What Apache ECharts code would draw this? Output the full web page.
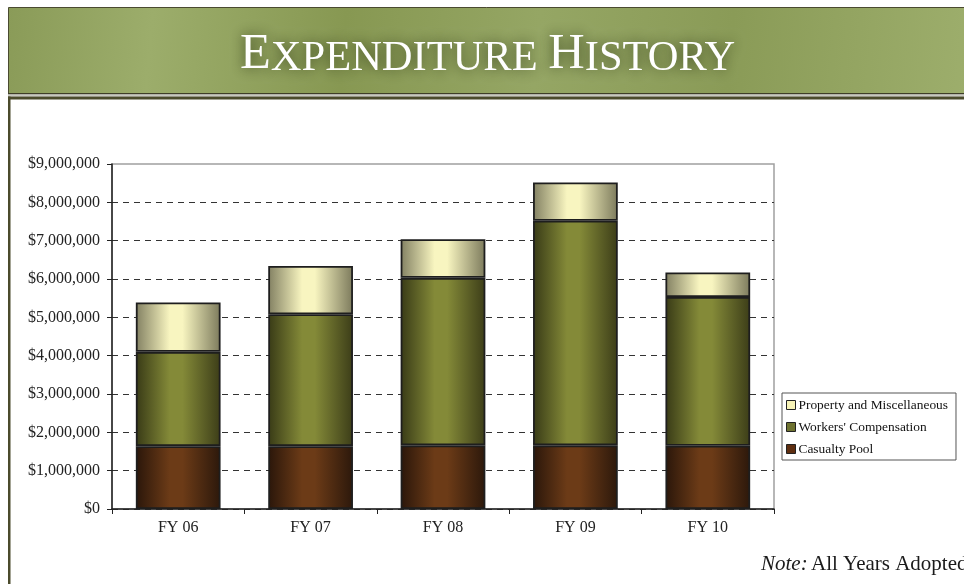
<!DOCTYPE html>
<html>
<head>
<meta charset="utf-8">
<script src="https://cdn.jsdelivr.net/npm/echarts@6/dist/echarts.min.js"></script>
<style>
  html, body { margin: 0; padding: 0; background: #fff; }
  #chart { width: 964px; height: 584px; }
</style>
</head>
<body>
<div id="chart"></div>
<script>
// values (dollars)
const years = ['FY 06', 'FY 07', 'FY 08', 'FY 09', 'FY 10'];
const casualtyPool = [1640000, 1640000, 1660000, 1660000, 1650000];
const workersComp = [2460000, 3440000, 4370000, 5860000, 3880000];
const propertyMisc = [1290000, 1260000, 1010000, 1000000, 640000];
const legendNames = ['Property and Miscellaneous', "Workers' Compensation", 'Casualty Pool'];

const serif = '"Liberation Serif", "DejaVu Serif", serif';

const hGrad = (edgeL, mid, edgeR) => new echarts.graphic.LinearGradient(0, 0, 1, 0, [
  { offset: 0, color: edgeL },
  { offset: 0.4, color: mid },
  { offset: 0.55, color: mid },
  { offset: 1, color: edgeR }
]);

const chart = echarts.init(document.getElementById('chart'));

const barStyle = (fill) => ({
  color: fill,
  borderColor: '#1e1e1e',
  borderWidth: 1.8
});

// hide the dashed split line at the top, the grid border draws it in gray
const splitColors = ['#333', '#333', '#333', '#333', '#333', '#333', '#333', '#333', '#333', 'rgba(0,0,0,0)'];

const option = {
  backgroundColor: '#fff',
  animation: false,
  grid: {
    left: 112, right: 190, top: 164, bottom: 75,
    show: true,
    borderColor: '#a0a0a0',
    borderWidth: 1.5,
    backgroundColor: 'transparent'
  },
  legend: {
    orient: 'vertical',
    left: 782,
    top: 393,
    padding: [5, 8, 4, 4],
    itemWidth: 9,
    itemHeight: 9,
    itemGap: 8,
    borderColor: '#555',
    borderWidth: 1,
    icon: 'rect',
    textStyle: { fontFamily: serif, fontSize: 13.4, lineHeight: 14, color: '#111', padding: [0, 0, 0, -2] },
    data: [
      { name: legendNames[0], itemStyle: { color: '#f6f2b6', borderColor: '#222', borderWidth: 1 } },
      { name: legendNames[1], itemStyle: { color: '#6e7230', borderColor: '#222', borderWidth: 1 } },
      { name: legendNames[2], itemStyle: { color: '#5e2e10', borderColor: '#222', borderWidth: 1 } }
    ]
  },
  xAxis: {
    type: 'category',
    data: years,
    axisLine: { lineStyle: { color: '#222', width: 1.5 } },
    axisTick: { show: true, length: 5, lineStyle: { color: '#222' } },
    axisLabel: { fontFamily: serif, fontSize: 16, color: '#222', margin: 11 }
  },
  yAxis: {
    type: 'value',
    min: 0,
    max: 9000000,
    interval: 1000000,
    axisLine: { show: true, lineStyle: { color: '#222', width: 1.5 } },
    axisTick: { show: true, length: 5, lineStyle: { color: '#222' } },
    axisLabel: {
      fontFamily: serif, fontSize: 16, color: '#222', margin: 12,
      formatter: v => '$' + v.toLocaleString('en-US')
    },
    splitLine: { lineStyle: { color: splitColors, type: [6, 5], width: 1 } }
  },
  series: [
    {
      name: legendNames[2], type: 'bar', stack: 'total', barWidth: '64%',
      data: casualtyPool,
      itemStyle: barStyle(hGrad('#2a160a', '#6c3b17', '#2c180b'))
    },
    {
      name: legendNames[1], type: 'bar', stack: 'total', barWidth: '64%',
      data: workersComp,
      itemStyle: barStyle(hGrad('#383a16', '#848a38', '#3c3d18'))
    },
    {
      name: legendNames[0], type: 'bar', stack: 'total', barWidth: '64%',
      data: propertyMisc,
      itemStyle: barStyle(hGrad('#828062', '#f8f5c0', '#7c7a5c'))
    }
  ],
  graphic: [
    // header band
    {
      type: 'rect', left: 8, top: 7, z: 1,
      shape: { width: 960, height: 86 },
      style: {
        fill: new echarts.graphic.LinearGradient(0, 0, 1, 1, [
          { offset: 0, color: '#8a9b58' },
          { offset: 0.15, color: '#9cad6b' },
          { offset: 0.35, color: '#879852' },
          { offset: 0.55, color: '#95a664' },
          { offset: 0.75, color: '#8a9b57' },
          { offset: 1, color: '#9dae6c' }
        ]),
        stroke: '#4a4a30',
        lineWidth: 1
      }
    },
    {
      type: 'text', left: 240, top: 29, z: 5,
      style: {
        text: '{b|E}{s|XPENDITURE }{b|H}{s|ISTORY}',
        fill: '#fff',
        textShadowColor: 'rgba(40,50,18,0.9)',
        textShadowBlur: 14,
        rich: {
          b: { fontFamily: serif, fontSize: 50.5, fill: '#fff', verticalAlign: 'bottom', lineHeight: 52 },
          s: { fontFamily: serif, fontSize: 42.5, fill: '#fff', verticalAlign: 'bottom', lineHeight: 52 }
        }
      }
    },
    // frame lines under the header
    { type: 'rect', left: 8, top: 93, z: 1, shape: { width: 960, height: 1.5 }, style: { fill: '#3e3e28' } },
    { type: 'rect', left: 8, top: 94.5, z: 1, shape: { width: 960, height: 2 }, style: { fill: '#c8c8c0' } },
    { type: 'rect', left: 8, top: 96.5, z: 1, shape: { width: 960, height: 3 }, style: { fill: '#4b4b2c' } },
    { type: 'rect', left: 8, top: 96.5, z: 1, shape: { width: 2.5, height: 490 }, style: { fill: '#4b4b2c' } },
    // note
    {
      type: 'text', left: 761, top: 554, z: 5,
      style: {
        text: '{i|Note:} {n|All Years Adopted}',
        rich: {
          i: { fontFamily: serif, fontSize: 21, fontStyle: 'italic', fill: '#1a1a1a' },
          n: { fontFamily: serif, fontSize: 21, fill: '#1a1a1a' }
        }
      }
    }
  ]
};

chart.setOption(option);
</script>
</body>
</html>
